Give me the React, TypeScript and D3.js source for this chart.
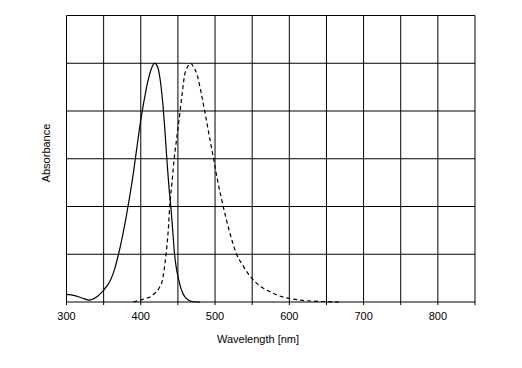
import React from "react";
import * as d3 from "d3";

const xTicks = [300, 400, 500, 600, 700, 800];
const xGrid = [300, 350, 400, 450, 500, 550, 600, 650, 700, 750, 800, 850];
const yGrid = [0, 0.2, 0.4, 0.6, 0.8, 1.0, 1.2];

const absWavelength = [300, 311, 320, 330, 341, 350, 359, 365, 370, 375, 380, 385, 390, 394, 398, 402, 406, 410, 414, 417, 419, 421, 424, 427, 430, 432, 434, 436, 438, 441, 443, 445.5, 448, 451, 454, 457, 460, 464, 470, 480];
const absValue = [0.032, 0.027, 0.018, 0.008, 0.022, 0.05, 0.09, 0.14, 0.2, 0.27, 0.35, 0.44, 0.54, 0.63, 0.72, 0.8, 0.87, 0.93, 0.975, 0.995, 1.0, 0.995, 0.97, 0.91, 0.82, 0.74, 0.65, 0.56, 0.48, 0.38, 0.3, 0.2, 0.14, 0.095, 0.058, 0.034, 0.019, 0.008, 0.001, 0];

const emWavelength = [390, 399, 406, 413, 420, 425, 429, 434, 437, 439, 442, 445, 449, 453, 456, 459, 463, 467, 471, 476, 481, 486, 492, 498, 504, 511, 519, 529, 538, 548, 560, 574, 586, 600, 615, 630, 650, 668];
const emValue = [0, 0.008, 0.014, 0.022, 0.04, 0.06, 0.09, 0.2, 0.3, 0.4, 0.5, 0.6, 0.7, 0.8, 0.88, 0.95, 0.985, 1.0, 0.985, 0.95, 0.88, 0.8, 0.7, 0.6, 0.5, 0.4, 0.3, 0.2, 0.15, 0.105, 0.068, 0.043, 0.026, 0.015, 0.008, 0.004, 0.0015, 0];

export default function App() {
  const W = 522, H = 368;
  const x = d3.scaleLinear().domain([300, 850]).range([66.5, 475]);
  const y = d3.scaleLinear().domain([0, 1.2]).range([302, 15.5]);
  const line = d3.line<[number, number]>().x(d => x(d[0])).y(d => y(d[1])).curve(d3.curveMonotoneX);
  const absPath = line(absWavelength.map((w, i) => [w, absValue[i]]) as [number, number][]) || "";
  const emPath = line(emWavelength.map((w, i) => [w, emValue[i]]) as [number, number][]) || "";
  const font = "'Liberation Sans', Arial, sans-serif";
  return (
    <svg width={W} height={H} style={{ position: "absolute", left: 0, top: 0, background: "#fff" }}>
      <rect x={0} y={0} width={W} height={H} fill="#fff" />
      {xGrid.map(v => (
        <line key={"xg" + v} x1={x(v)} x2={x(v)} y1={y(1.2)} y2={y(0) + 3} stroke="#000" strokeWidth={1} />
      ))}
      {yGrid.map(v => (
        <line key={"yg" + v} x1={x(300)} x2={x(850)} y1={y(v)} y2={y(v)} stroke="#000" strokeWidth={1} />
      ))}
      <path d={absPath} fill="none" stroke="#000" strokeWidth={1.2} />
      <path d={emPath} fill="none" stroke="#000" strokeWidth={1.2} strokeDasharray="4,3" />
      {xTicks.map(v => (
        <text key={"xt" + v} x={x(v)} y={320} textAnchor="middle" fontFamily={font} fontSize={11} fill="#000">{v}</text>
      ))}
      <text x={258} y={343} textAnchor="middle" fontFamily={font} fontSize={11} fill="#000">Wavelength [nm]</text>
      <text transform={`translate(50,153) rotate(-90)`} textAnchor="middle" fontFamily={font} fontSize={11} fill="#000">Absorbance</text>
    </svg>
  );
}
